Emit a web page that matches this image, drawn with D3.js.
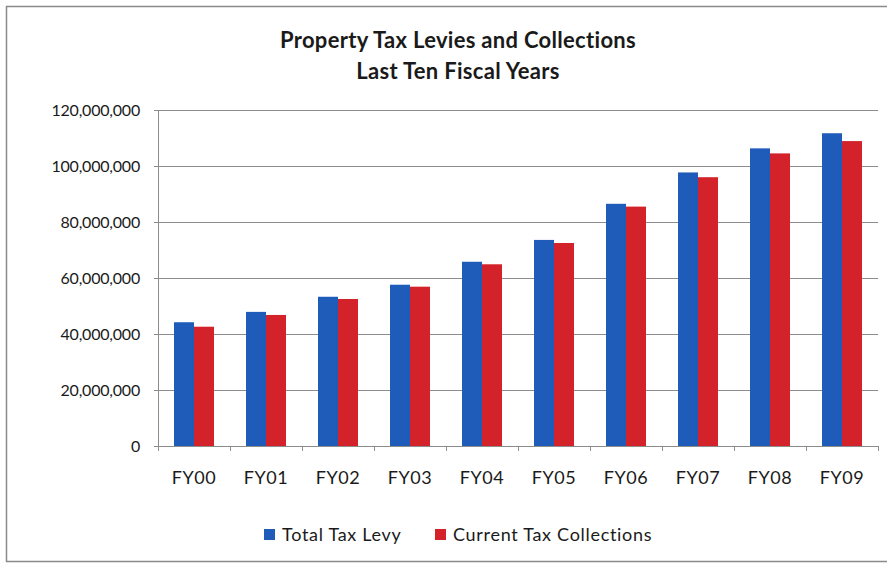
<!DOCTYPE html>
<html>
<head>
<meta charset="utf-8">
<script src="https://cdn.jsdelivr.net/npm/d3@7"></script>
<style>
  body { margin: 0; background: #fff; }
  text { font-family: Lato, "Open Sans", sans-serif; fill: #1a1a1a; }
</style>
</head>
<body>
<div id="chart"></div>
<script>
const years = ["FY00", "FY01", "FY02", "FY03", "FY04", "FY05", "FY06", "FY07", "FY08", "FY09"];
const totalLevy = [44200000, 47900000, 53300000, 57600000, 65800000, 73600000, 86500000, 97700000, 106300000, 111700000];
const currentCollections = [42600000, 46800000, 52500000, 56900000, 64900000, 72500000, 85500000, 96000000, 104500000, 108900000];
const seriesNames = ["Total Tax Levy", "Current Tax Collections"];
const yTicks = [0, 20000000, 40000000, 60000000, 80000000, 100000000, 120000000];

const colors = ["#1f5cb9", "#d3222a"];
const W = 887, H = 565;
const margin = {top: 110, right: 9, bottom: 119, left: 158};
const width = W - margin.left - margin.right;
const height = H - margin.top - margin.bottom;

const svg = d3.select("#chart").append("svg")
    .attr("width", W)
    .attr("height", H);

svg.append("rect")
    .attr("x", 6.5).attr("y", 6.5)
    .attr("width", W + 10).attr("height", 555)
    .attr("fill", "none")
    .attr("stroke", "#8a8a8a")
    .attr("stroke-width", 1.5);

svg.append("text")
    .attr("x", 458).attr("y", 48)
    .attr("text-anchor", "middle")
    .style("font-size", "22px").style("font-weight", "bold")
    .style("letter-spacing", "0.3px")
    .text("Property Tax Levies and Collections");
svg.append("text")
    .attr("x", 458).attr("y", 79)
    .attr("text-anchor", "middle")
    .style("font-size", "22px").style("font-weight", "bold")
    .style("letter-spacing", "0.3px")
    .text("Last Ten Fiscal Years");

const g = svg.append("g")
    .attr("transform", `translate(${margin.left},${margin.top})`);

const x = d3.scaleBand().domain(years).range([0, width]);
const x1 = d3.scaleBand().domain(seriesNames).range([0, x.bandwidth()]).paddingOuter(0.8);
const y = d3.scaleLinear().domain([0, 120000000]).range([height, 0]);

// gridlines
g.append("g")
    .selectAll("line")
    .data(yTicks.slice(1))
    .enter().append("line")
    .attr("x1", 0).attr("x2", width)
    .attr("y1", d => y(d) + 0.5).attr("y2", d => y(d) + 0.5)
    .attr("stroke", "#8c8c8c");

const rows = years.map((yr, i) => ({year: yr, values: [totalLevy[i], currentCollections[i]]}));

g.selectAll(".grp")
    .data(rows)
    .enter().append("g")
    .attr("class", "grp")
    .attr("transform", d => `translate(${x(d.year)},0)`)
    .selectAll("rect")
    .data(d => d.values.map((v, j) => ({name: seriesNames[j], value: v, j: j})))
    .enter().append("rect")
    .attr("x", d => x1(d.name))
    .attr("width", x1.bandwidth())
    .attr("y", d => y(d.value))
    .attr("height", d => height - y(d.value))
    .attr("fill", d => colors[d.j]);

// y axis
const yAxis = g.append("g")
    .call(d3.axisLeft(y).tickValues(yTicks).tickSize(4).tickPadding(14)
        .tickFormat(d3.format(",")));
yAxis.select(".domain").attr("stroke", "#8c8c8c");
yAxis.selectAll(".tick line").attr("stroke", "#8c8c8c");
yAxis.selectAll("text").style("font-size", "16px").style("letter-spacing", "-0.2px").attr("fill", "#1a1a1a");

// x axis
const xAxis = g.append("g")
    .attr("transform", `translate(0,${height})`)
    .call(d3.axisBottom(x).tickSize(0).tickPadding(25));
xAxis.select(".domain").attr("stroke", "#8c8c8c");
xAxis.selectAll("text").style("font-size", "18px").style("letter-spacing", "0.5px").attr("fill", "#1a1a1a");
xAxis.selectAll(".sep")
    .data(d3.range(years.length + 1))
    .enter().append("line")
    .attr("x1", i => i * x.step() + 0.5).attr("x2", i => i * x.step() + 0.5)
    .attr("y1", 0).attr("y2", 5)
    .attr("stroke", "#8c8c8c");

// legend
const legendX = [264, 435];
const legend = svg.selectAll(".leg")
    .data(seriesNames)
    .enter().append("g")
    .attr("transform", (d, i) => `translate(${legendX[i]},529)`);
legend.append("rect")
    .attr("width", 11).attr("height", 11)
    .attr("fill", (d, i) => colors[i]);
legend.append("text")
    .attr("x", 18).attr("y", 12)
    .style("font-size", "18px")
    .style("letter-spacing", "0.7px")
    .text(d => d);
</script>
</body>
</html>
